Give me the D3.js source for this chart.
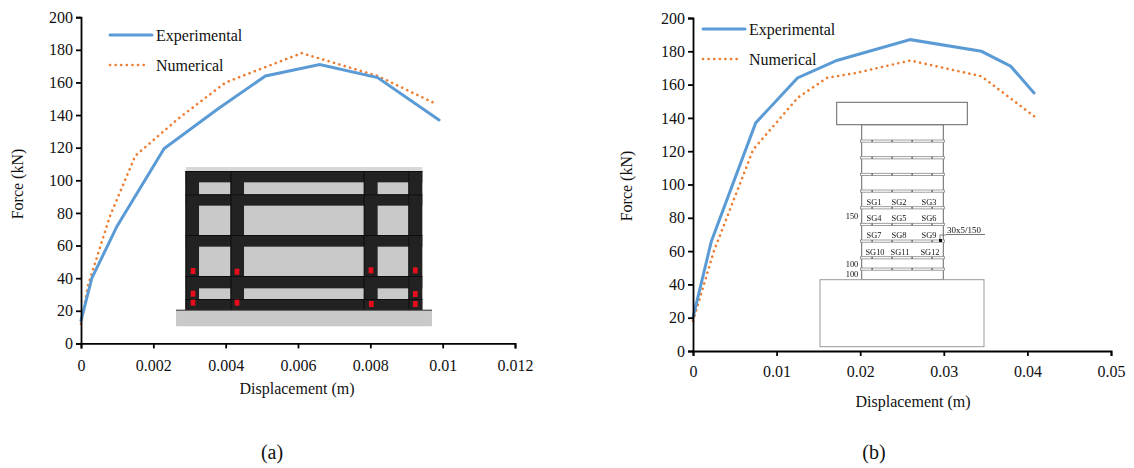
<!DOCTYPE html>
<html>
<head>
<meta charset="utf-8">
<script src="https://cdn.jsdelivr.net/npm/d3@7"></script>
<style>
  body { margin: 0; background: #fff; }
  text { font-family: "Liberation Serif", "Times New Roman", serif; fill: #111; }
</style>
</head>
<body>
<svg id="chart" width="1134" height="468">
  <defs>
    <filter id="soft" x="-5%" y="-5%" width="110%" height="110%"><feGaussianBlur stdDeviation="0.45"></feGaussianBlur></filter>
  </defs>
</svg>
<script>
const seriesNames = ['Experimental', 'Numerical']
const yTicks = [0, 20, 40, 60, 80, 100, 120, 140, 160, 180, 200]

// chart (a)
const xTicksA = [0, 0.002, 0.004, 0.006, 0.008, 0.01, 0.012]
const dispExpA = [0, 0.0003, 0.001, 0.0023, 0.0038, 0.0051, 0.0066, 0.0082, 0.0099]
const forceExpA = [14, 40, 72, 119.5, 144, 164, 171, 163, 137]
const dispNumA = [0, 0.0002, 0.0008, 0.0015, 0.0027, 0.004, 0.0061, 0.0082, 0.0098]
const forceNumA = [12, 36, 78, 115, 138, 160, 178, 164, 147]

// chart (b)
const xTicksB = [0, 0.01, 0.02, 0.03, 0.04, 0.05]
const dispExpB = [0, 0.0022, 0.0075, 0.0125, 0.0172, 0.026, 0.0345, 0.038, 0.0408]
const forceExpB = [20, 66, 137, 164, 174.5, 187, 180, 171, 155]
const dispNumB = [0, 0.0025, 0.0072, 0.0125, 0.016, 0.0195, 0.026, 0.0345, 0.0408]
const forceNumB = [18, 60, 121, 152, 164, 167, 174.5, 165, 141]

// inset (a): wall elevation, in drawing units
const wallColumns = [[0, 40], [135, 175], [535, 576], [669, 710]]
const wallBeams = [[0, 34], [70, 104], [192, 227], [315, 352], [384, 417]]
const wallGauges = [[22, 300], [154, 302], [556, 298], [689, 298], [22, 368], [22, 395], [154, 395], [557, 399], [689, 369], [689, 399]]

// inset (b): column elevation, in px-like drawing units
const stirrups = [141, 157.7, 174.3, 191, 207.7, 224.3, 241, 257.7, 269]
const gaugeRows = [
  { y: 207.7, names: ['SG1', 'SG2', 'SG3'] },
  { y: 224.3, names: ['SG4', 'SG5', 'SG6'] },
  { y: 241, names: ['SG7', 'SG8', 'SG9'] },
  { y: 257.7, names: ['SG10', 'SG11', 'SG12'] },
]
const gaugeXs = [875, 900, 930]
const stirrupDots = [872, 892, 912, 932]

const svg = d3.select('#chart')
const fontSize = 16

const drawChart = (o) => {
  const x = d3.scaleLinear().domain(o.xDomain).range(o.xRange)
  const y = d3.scaleLinear().domain([0, 200]).range(o.yRange)
  const g = svg.append('g')

  if (o.inset) o.inset(g)

  const line = d3.line().x(d => x(d[0])).y(d => y(d[1]))
  g.append('path')
    .attr('d', line(d3.zip(o.dispNum, o.forceNum)))
    .attr('fill', 'none')
    .attr('stroke', '#ed7d31')
    .attr('stroke-width', 2.6)
    .attr('stroke-linecap', 'round')
    .attr('stroke-dasharray', '0.1 5.5')
  g.append('path')
    .attr('d', line(d3.zip(o.dispExp, o.forceExp)))
    .attr('fill', 'none')
    .attr('stroke', '#5b9bd5')
    .attr('stroke-width', 3)
    .attr('stroke-linecap', 'round')

  const xAxis = g.append('g')
    .attr('transform', `translate(0,${o.yRange[0]})`)
    .call(d3.axisBottom(x).tickValues(o.xTicks).tickFormat(d => String(d)).tickSize(5).tickPadding(o.xPad))
  const yAxis = g.append('g')
    .attr('transform', `translate(${o.xRange[0]},0)`)
    .call(d3.axisLeft(y).tickValues(yTicks).tickSize(5).tickPadding(3))
  ;[xAxis, yAxis].forEach(a => {
    a.selectAll('.domain, .tick line').attr('stroke', '#000').attr('stroke-width', 1.8)
    a.selectAll('text').attr('font-size', fontSize).attr('font-family', '"Liberation Serif"').attr('fill', '#111')
  })

  g.append('text')
    .attr('x', o.xTitle[0]).attr('y', o.xTitle[1])
    .attr('text-anchor', 'middle').attr('font-size', fontSize)
    .text('Displacement (m)')
  g.append('text')
    .attr('transform', `translate(${o.yTitle[0]},${o.yTitle[1]}) rotate(-90)`)
    .attr('text-anchor', 'middle').attr('font-size', fontSize)
    .text('Force (kN)')
  g.append('text')
    .attr('x', o.caption[0]).attr('y', o.caption[1])
    .attr('text-anchor', 'middle').attr('font-size', 20)
    .text(o.captionText)

  // legend
  const lx = o.legend[0], ly = o.legend[1]
  g.append('line').attr('x1', lx).attr('x2', lx + 42).attr('y1', ly).attr('y2', ly)
    .attr('stroke', '#5b9bd5').attr('stroke-width', 3).attr('stroke-linecap', 'round')
  g.append('line').attr('x1', lx).attr('x2', lx + 38).attr('y1', ly + 30).attr('y2', ly + 30)
    .attr('stroke', '#ed7d31').attr('stroke-width', 2.6).attr('stroke-linecap', 'round')
    .attr('stroke-dasharray', '0.1 5.5')
  seriesNames.forEach((name, i) => {
    g.append('text')
      .attr('x', lx + 46).attr('y', ly + i * 30 + 6)
      .attr('font-size', fontSize)
      .text(name)
  })
}

const insetWall = (g0) => {
  const g = g0.append('g').attr('filter', 'url(#soft)')
  const sx = d3.scaleLinear().domain([0, 710]).range([185.7, 422.3])
  const sy = d3.scaleLinear().domain([0, 417]).range([171, 310])
  const rect = (x0, x1, y0, y1, fill) => g.append('rect')
    .attr('x', sx(x0)).attr('width', sx(x1) - sx(x0))
    .attr('y', sy(y0)).attr('height', sy(y1) - sy(y0))
    .attr('fill', fill)

  rect(0, 710, -12, 0, '#d8d8d8')
  rect(-29, 739, 417, 466, '#c9c9c9')
  rect(0, 710, 0, 417, '#c9c9c9')
  wallBeams.forEach(b => rect(0, 710, b[0], b[1], '#222'))
  wallColumns.forEach(c => rect(c[0], c[1], 0, 417, '#222'))
  // thin darker edges where the strips overlap
  wallColumns.forEach(c => rect(c[0] - 1, c[0] + 2, 0, 417, '#0d0d0d'))
  wallBeams.forEach(b => rect(0, 710, b[0], b[0] + 2.5, '#0d0d0d'))
  rect(-29, 739, 416, 419, '#333')
  wallGauges.forEach(p => rect(p[0] - 7, p[0] + 7, p[1] - 9, p[1] + 9, '#e8101a'))
}

const insetColumn = (g0) => {
  const g = g0.append('g').attr('filter', 'url(#soft)')
  const box = (x0, x1, y0, y1, col) => g.append('rect')
    .attr('x', x0).attr('y', y0).attr('width', x1 - x0).attr('height', y1 - y0)
    .attr('fill', '#fff').attr('stroke', col).attr('stroke-width', 1)

  box(861.7, 943.3, 124.7, 279.7, '#666')
  box(836.7, 967.3, 102.3, 124.7, '#666')
  box(820, 984, 279.7, 346.7, '#999')

  stirrups.forEach(s => {
    g.append('rect').attr('x', 860.5).attr('y', s - 1).attr('width', 84).attr('height', 2.2)
      .attr('fill', '#fff').attr('stroke', '#888').attr('stroke-width', 0.8)
    stirrupDots.forEach(d => {
      g.append('rect').attr('x', d - 0.5).attr('y', s - 0.8).attr('width', 1.2).attr('height', 1.8).attr('fill', '#444')
    })
  })

  gaugeRows.forEach(r => {
    r.names.forEach((n, i) => {
      g.append('text')
        .attr('x', gaugeXs[i] - 1 + (n.length > 3 ? 1 : 0))
        .attr('y', r.y - 3)
        .attr('font-size', 8.4)
        .attr('text-anchor', 'middle')
        .attr('fill', '#222')
        .text(n)
    })
  })

  const small = (x, y, t) => g.append('text').attr('x', x).attr('y', y)
    .attr('font-size', 8.4).attr('text-anchor', 'middle').attr('fill', '#222').text(t)
  small(852, 219, '150')
  small(852, 267, '100')
  small(852, 277, '100')

  g.append('text').attr('x', 947).attr('y', 232.5).attr('font-size', 9).attr('fill', '#222').text('30x5/150')
  g.append('line').attr('x1', 946).attr('x2', 985).attr('y1', 234.5).attr('y2', 234.5).attr('stroke', '#555').attr('stroke-width', 0.8)
  g.append('path').attr('d', 'M940,241V235H946').attr('fill', 'none').attr('stroke', '#555').attr('stroke-width', 0.7)
  g.append('rect').attr('x', 939).attr('y', 239).attr('width', 3).attr('height', 3).attr('fill', '#111')
}

drawChart({
  xDomain: [0, 0.012], xRange: [81, 515], yRange: [343.4, 17.2], xTicks: xTicksA, xPad: 11,
  dispExp: dispExpA, forceExp: forceExpA, dispNum: dispNumA, forceNum: forceNumA,
  xTitle: [297, 394], yTitle: [23, 184], caption: [272, 459], captionText: '(a)',
  legend: [110, 35], inset: insetWall,
})

drawChart({
  xDomain: [0, 0.05], xRange: [693, 1111], yRange: [351, 18], xTicks: xTicksB, xPad: 10,
  dispExp: dispExpB, forceExp: forceExpB, dispNum: dispNumB, forceNum: forceNumB,
  xTitle: [913, 407], yTitle: [632, 186], caption: [874, 459], captionText: '(b)',
  legend: [703, 29], inset: insetColumn,
})
</script>
</body>
</html>
